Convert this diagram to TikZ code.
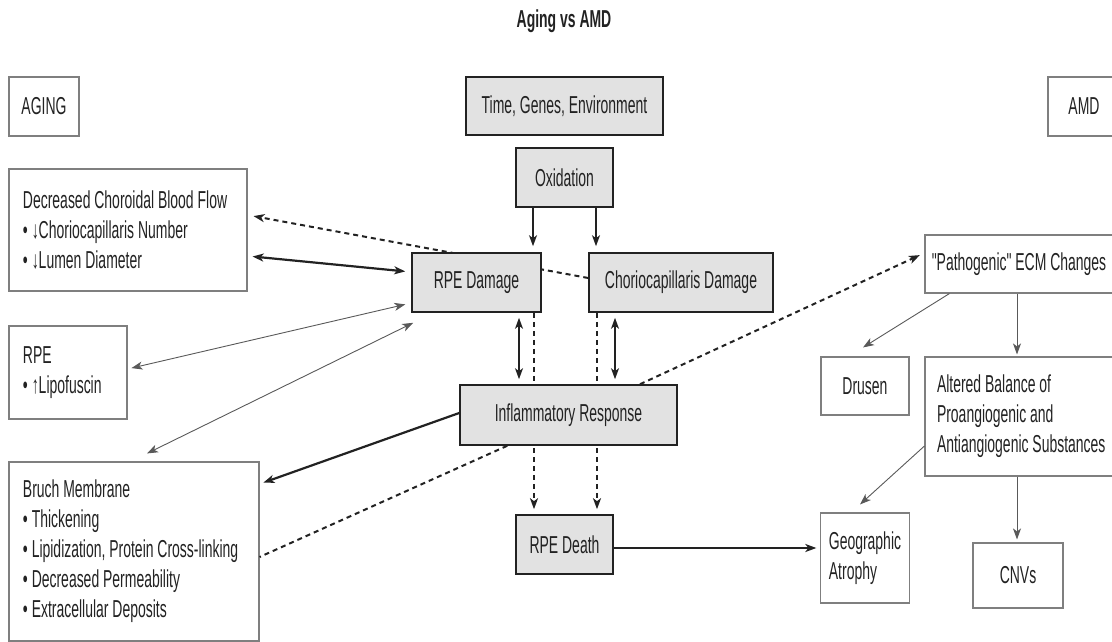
\documentclass[tikz,border=0pt]{standalone}
\usepackage{fontspec}
\setmainfont{Liberation Sans}[FakeStretch=0.57, Ligatures=TeXOff]
\usetikzlibrary{arrows.meta}
\usetikzlibrary{backgrounds}
\definecolor{boxfill}{HTML}{E2E2E2}
\definecolor{ink}{HTML}{222222}
\definecolor{rim}{HTML}{7F7F7F}
\tikzset{
 every node/.style={font=\fontsize{24.5}{30}\selectfont, text=ink},
 plain/.style={draw=rim, line width=1.1pt, inner sep=0pt},
 shaded/.style={draw=ink, fill=boxfill, line width=1.6pt, inner sep=0pt},
 listbox/.style={plain, align=left, inner xsep=#1, inner ysep=0pt,
  execute at begin node={\spaceskip=0pt\xspaceskip=0pt\hyphenpenalty=10000\relax}},
 sz/.style 2 args={minimum width=#1, minimum height=#2},
 onehead/.style={-{Stealth[length=11pt,width=8pt,inset=3pt]}},
 twohead/.style={{Stealth[length=11pt,width=8pt,inset=3pt]}-{Stealth[length=11pt,width=8pt,inset=3pt]}},
 heavyline/.style={draw=ink, line width=2.2pt},
 midline/.style={draw=ink, line width=1.5pt},
 fineline/.style={draw=ink!75, line width=0.9pt},
 dashline/.style={draw=ink, line width=2pt, dash pattern=on 5pt off 4pt},
}
\begin{document}
\begin{tikzpicture}[x=1pt, y=-1pt]
\useasboundingbox (0,0) rectangle (1112,642);
\node[font=\bfseries\fontsize{24.5}{30}\selectfont, anchor=base] (title) at (564,28) {Aging vs AMD};
\node[plain, sz={70}{59}] (aging) at (44,106.5) {AGING};
\node[shaded, sz={197}{58}] (tge) at (564.5,106) {Time, Genes, Environment};
\node[plain, sz={72}{59}] (amd) at (1084,106.5) {AMD};
\node[shaded, sz={97}{59}] (oxid) at (564.5,177.5) {Oxidation};
\node[listbox=14pt, text width=210pt, sz={238}{122}] (cbf) at (128,230)
 {Decreased Choroidal Blood Flow\\ \textbullet\ ↓Choriocapillaris Number\\ \textbullet\ ↓Lumen Diameter};
\node[shaded, sz={129}{59}] (rpedmg) at (476.5,282.5) {RPE Damage};
\node[shaded, sz={184}{59}] (ccdmg) at (681,282.5) {Choriocapillaris Damage};
\node[plain, sz={188}{58}] (ecm) at (1019,264) {"Pathogenic" ECM Changes};
\node[listbox=14pt, text width=90pt, sz={118}{93}] (rpe) at (68,372.5)
 {RPE\\ \textbullet\ ↑Lipofuscin};
\node[shaded, sz={217}{60}] (infl) at (568.5,415) {Inflammatory Response};
\node[plain, sz={88}{58}] (drusen) at (865,386) {Drusen};
\node[listbox=12pt, text width=186pt, sz={210}{119}] (balance) at (1030,416.5)
 {Altered Balance of\\ Proangiogenic and\\ Antiangiogenic Substances};
\node[listbox=14pt, text width=222pt, sz={250}{179}] (bruch) at (134,551.5)
 {Bruch Membrane\\ \textbullet\ Thickening\\ \textbullet\ Lipidization, Protein Cross-linking\\
  \textbullet\ Decreased Permeability\\ \textbullet\ Extracellular Deposits};
\node[shaded, sz={97}{59}] (rpedeath) at (564.5,544.5) {RPE Death};
\node[listbox=8pt, sz={88}{90}] (ga) at (865,558) {Geographic\\ Atrophy};
\node[plain, sz={90}{65}] (cnv) at (1018,575.5) {CNVs};
\begin{scope}[on background layer]
\draw[dashline,onehead,shorten >=6pt] ([yshift=4.5pt]ccdmg.west) -- ([yshift=15pt]cbf.east);
\draw[dashline,onehead,shorten >=5pt] ([xshift=-30.5pt]rpedeath.north |- rpedmg.south) -- ([xshift=-30.5pt]rpedeath.north);
\draw[dashline,onehead,shorten >=5pt] ([xshift=32.5pt]rpedeath.north |- ccdmg.south) -- ([xshift=32.5pt]rpedeath.north);
\end{scope}
\draw[midline,onehead,shorten >=6pt] ([xshift=-31.5pt]oxid.south) -- ([xshift=-31.5pt]oxid.south |- rpedmg.north);
\draw[midline,onehead,shorten >=6pt] ([xshift=31.5pt]oxid.south) -- ([xshift=31.5pt]oxid.south |- ccdmg.north);
\draw[midline,twohead,shorten <=5pt,shorten >=5pt] ([xshift=42.5pt]rpedmg.south) -- ([xshift=42.5pt]rpedmg.south |- infl.north);
\draw[midline,twohead,shorten <=5pt,shorten >=5pt] ([xshift=-66pt]ccdmg.south) -- ([xshift=-66pt]ccdmg.south |- infl.north);
\draw[heavyline,twohead,shorten <=5pt,shorten >=6pt] ([yshift=-26pt]cbf.east) -- ([yshift=10.5pt]rpedmg.west);
\draw[fineline,twohead,shorten <=4pt,shorten >=6pt] ([yshift=3.5pt]rpe.east) -- ([yshift=-20.5pt]rpedmg.west);
\draw[fineline,twohead] ([xshift=13pt,yshift=8pt]bruch.north) -- ([xshift=2pt,yshift=-10pt]rpedmg.south west);
\draw[heavyline,onehead,shorten >=4pt] ([yshift=2pt]infl.west) -- ([yshift=67.5pt]bruch.east);
\draw[dashline] ([xshift=48pt]infl.south west) -- ([yshift=-5.5pt]bruch.east);
\draw[dashline,onehead,shorten >=5pt] ([xshift=71.5pt]infl.north) -- ([yshift=11pt]ecm.west);
\draw[heavyline,onehead,shorten >=4pt] ([yshift=-3.5pt]rpedeath.east) -- ([yshift=-3.5pt]rpedeath.east -| ga.west);
\draw[fineline,onehead] ([xshift=25pt]ecm.south west) -- ([xshift=-2pt,yshift=9pt]drusen.north);
\draw[fineline,onehead,shorten >=2pt] ([xshift=-2pt]ecm.south) -- ([xshift=-2pt]ecm.south |- balance.north);
\draw[fineline,onehead] ([yshift=-29.5pt]balance.west) -- ([xshift=-5pt,yshift=8pt]ga.north);
\draw[fineline,onehead,shorten >=3pt] ([xshift=-1pt]cnv.north |- balance.south) -- ([xshift=-1pt]cnv.north);
\end{tikzpicture}
\end{document}
